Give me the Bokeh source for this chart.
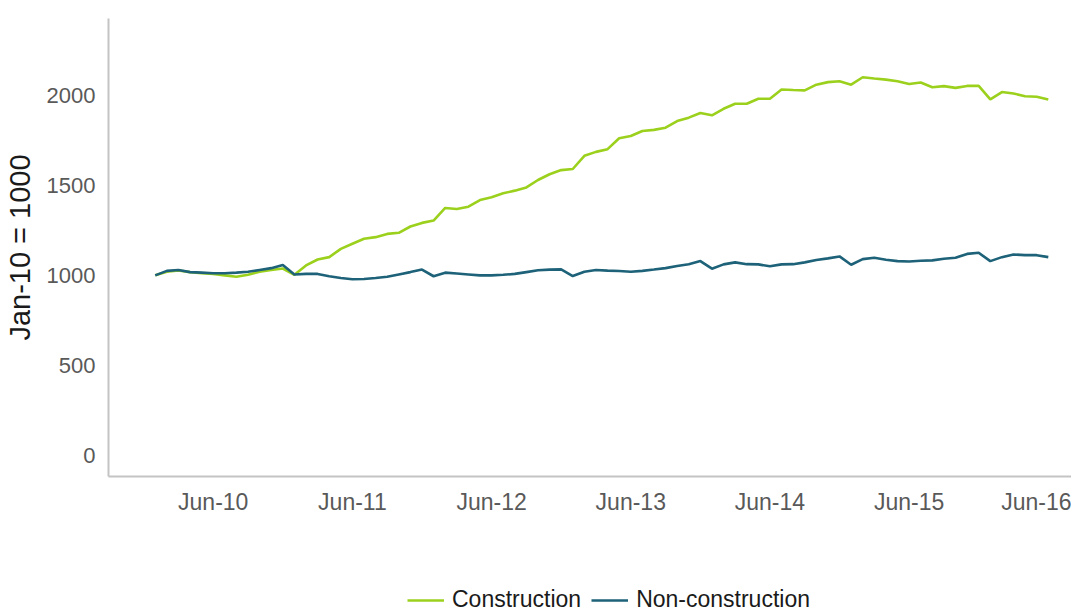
from bokeh.plotting import figure
from bokeh.models import Range1d, FixedTicker, Legend, LegendItem
from bokeh.layouts import column
from bokeh.embed import file_html
from bokeh.resources import INLINE

# Monthly index: 0 = Jan-10 ... 77 = Jun-16
months = list(range(78))

construction = [
    1000, 1020, 1027, 1018, 1012, 1008, 1000, 992, 1003, 1020, 1030, 1038,
    1003, 1055, 1088, 1101, 1147, 1175, 1203, 1212, 1230, 1236, 1271, 1291,
    1304, 1374, 1368, 1381, 1418, 1433, 1455, 1470, 1488, 1529, 1561, 1584,
    1590, 1663, 1685, 1700, 1761, 1773, 1801, 1807, 1819, 1856, 1875, 1901,
    1888, 1924, 1952, 1952, 1980, 1980, 2031, 2028, 2026, 2058, 2072, 2077,
    2058, 2099, 2092, 2086, 2077, 2062, 2070, 2044, 2050, 2040, 2051, 2051,
    1976, 2017, 2009, 1994, 1991, 1976,
]

non_construction = [
    1000, 1025, 1030, 1018, 1015, 1012, 1012, 1015, 1020, 1030, 1040, 1058,
    1005, 1008, 1008, 995, 985, 978, 980, 985, 992, 1005, 1018, 1032,
    995, 1015, 1010, 1005, 1000, 1000, 1003, 1008, 1018, 1028, 1032, 1033,
    996, 1020, 1030, 1026, 1024, 1020, 1025, 1032, 1040, 1052, 1062, 1079,
    1037, 1061, 1072, 1062, 1061, 1050, 1061, 1062, 1072, 1085, 1094, 1105,
    1059, 1090, 1098, 1087, 1079, 1077, 1081, 1083, 1092, 1098, 1119, 1125,
    1079, 1101, 1116, 1112, 1112, 1101,
]

x_tick_positions = [5, 17, 29, 41, 53, 65, 77]
x_tick_labels = ["Jun-10", "Jun-11", "Jun-12", "Jun-13", "Jun-14", "Jun-15", "Jun-16"]
y_ticks = [0, 500, 1000, 1500, 2000]

series_names = ["Construction", "Non-construction"]
series_colors = ["#9bd11d", "#1d6278"]

FONT = "Liberation Sans"

p = figure(width=1071, height=517, output_backend="svg", toolbar_location=None,
           x_range=Range1d(-4.03, 79.0), y_range=Range1d(-116, 2425),
           min_border_left=102, min_border_right=0, min_border_top=18,
           min_border_bottom=40)

p.line(months, construction, line_color=series_colors[0], line_width=2.6)
p.line(months, non_construction, line_color=series_colors[1], line_width=2.6)

p.xgrid.visible = False
p.ygrid.visible = False
p.outline_line_color = None

for ax in (p.xaxis[0], p.yaxis[0]):
    ax.axis_line_color = "#c4c4c4"
    ax.axis_line_width = 2
    ax.major_tick_line_color = None
    ax.minor_tick_line_color = None
    ax.major_label_text_color = "#595959"
    ax.major_label_text_font = FONT

p.xaxis[0].ticker = FixedTicker(ticks=x_tick_positions)
p.xaxis[0].major_label_overrides = {k: v for k, v in zip(x_tick_positions, x_tick_labels)}
p.xaxis[0].major_label_standoff = 6
p.xaxis[0].major_label_text_font_size = "23px"

p.yaxis[0].ticker = FixedTicker(ticks=y_ticks)
p.yaxis[0].major_label_standoff = 7
p.yaxis[0].major_label_text_font_size = "22px"
p.yaxis[0].axis_label = "Jan-10 = 1000"
p.yaxis[0].axis_label_text_font = FONT
p.yaxis[0].axis_label_text_font_size = "29px"
p.yaxis[0].axis_label_text_font_style = "normal"
p.yaxis[0].axis_label_text_color = "#1a1a1a"
p.yaxis[0].axis_label_standoff = 8

# legend strip below the chart (series lie outside this strip's ranges,
# so only the legend is visible)
lg = figure(width=1071, height=97, output_backend="svg", toolbar_location=None,
            x_axis_location=None, y_axis_location=None,
            x_range=Range1d(0, 1), y_range=Range1d(0, 1),
            min_border_left=0, min_border_right=0, min_border_top=0, min_border_bottom=0)
lg.xgrid.visible = False
lg.ygrid.visible = False
lg.outline_line_color = None
g1 = lg.line(months, construction, line_color=series_colors[0], line_width=2.6)
g2 = lg.line(months, non_construction, line_color=series_colors[1], line_width=2.6)

legend = Legend(items=[LegendItem(label=series_names[0], renderers=[g1]),
                       LegendItem(label=series_names[1], renderers=[g2])],
                orientation="horizontal", location=(299, 1), margin=0,
                glyph_width=37, label_standoff=8, spacing=10, padding=4,
                label_text_font=FONT, label_text_font_size="23px",
                label_text_color="#1a1a1a", border_line_color=None,
                background_fill_alpha=0)
lg.add_layout(legend, "center")

layout = column(p, lg, spacing=0)

open("out.html", "w").write(file_html(layout, INLINE))
